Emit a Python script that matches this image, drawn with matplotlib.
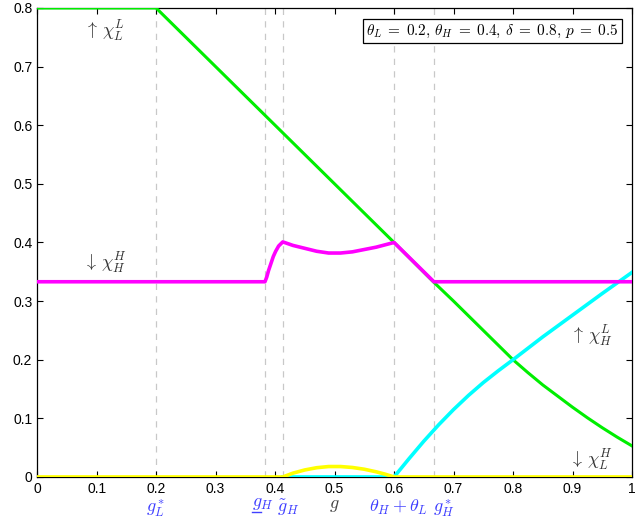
import numpy as np
import matplotlib.pyplot as plt
import matplotlib.transforms as mtransforms

plt.rcParams['mathtext.fontset'] = 'cm'
plt.rcParams['font.family'] = ['Liberation Sans', 'DejaVu Sans']

# -- data --
gL_x = [0.0, 0.2, 0.6, 0.667, 0.7, 0.75, 0.8, 0.825, 0.85, 0.875, 0.9, 0.925, 0.95, 0.975, 1.0]
chi_LL = [0.8, 0.8, 0.4, 0.332, 0.300, 0.250, 0.200, 0.178, 0.157, 0.138, 0.119, 0.101, 0.084, 0.068, 0.053]

gH_x = [0.0, 0.383, 0.386, 0.389, 0.393, 0.397, 0.401, 0.406, 0.413, 0.43, 0.45, 0.47, 0.49, 0.51,
        0.53, 0.55, 0.57, 0.585, 0.6, 0.667, 1.0]
chi_HH = [0.333, 0.333, 0.341, 0.352, 0.364, 0.376, 0.385, 0.394, 0.401, 0.395, 0.390, 0.385, 0.382, 0.382,
          0.384, 0.388, 0.392, 0.396, 0.400, 0.333, 0.333]

cy_x = [0.413, 0.6, 0.625, 0.65, 0.675, 0.7, 0.725, 0.75, 0.775, 0.8, 0.85, 0.9, 0.95, 1.0]
chi_HL = [0.0, 0.0, 0.031, 0.061, 0.089, 0.115, 0.139, 0.161, 0.181, 0.200, 0.239, 0.276, 0.313, 0.349]

ye_x = [0.0, 0.413, 0.43, 0.45, 0.47, 0.49, 0.51, 0.53, 0.55, 0.57, 0.585, 0.6, 1.0]
chi_LH = [0.0, 0.0, 0.0065, 0.0120, 0.0158, 0.0178, 0.0178, 0.0162, 0.0132, 0.0088, 0.0048, 0.0, 0.0]

vlines = [0.2, 0.383, 0.413, 0.6, 0.667]

fig = plt.figure(figsize=(6.4, 5.18), dpi=100)
ax = fig.add_axes([0.058, 0.0792, 0.9295, 0.9054])

for v in vlines:
    ax.axvline(v, color='#c8c8c8', lw=0.9, ls=(0, (5, 5)), zorder=1)

ax.plot(gL_x, chi_LL, color='#00ee00', lw=2.2, zorder=3)
ax.plot(gH_x, chi_HH, color='#ff00ff', lw=2.6, zorder=4)
ax.plot(cy_x, chi_HL, color='#00ffff', lw=2.6, zorder=3)
ax.plot(ye_x, chi_LH, color='#ffff00', lw=2.6, zorder=4)

ax.set_xlim(0, 1)
ax.set_ylim(0, 0.8)
ax.set_xticks(np.arange(0, 1.01, 0.1))
ax.set_xticklabels(['0', '0.1', '0.2', '0.3', '0.4', '0.5', '0.6', '0.7', '0.8', '0.9', '1'])
ax.set_yticks(np.arange(0, 0.81, 0.1))
ax.set_yticklabels(['0', '0.1', '0.2', '0.3', '0.4', '0.5', '0.6', '0.7', '0.8'])
ax.tick_params(direction='in', top=True, right=True, length=4, width=0.8, labelsize=10)
for s in ax.spines.values():
    s.set_linewidth(0.9)

# curve labels
txtc = '#333333'
ax.text(0.113, 0.76, r'$\uparrow\,\chi_L^L$', ha='center', va='center', fontsize=13, color=txtc)
ax.text(0.113, 0.365, r'$\downarrow\,\chi_H^H$', ha='center', va='center', fontsize=13, color=txtc)
ax.text(0.931, 0.239, r'$\uparrow\,\chi_H^L$', ha='center', va='center', fontsize=13, color=txtc)
ax.text(0.931, 0.029, r'$\downarrow\,\chi_L^H$', ha='center', va='center', fontsize=13, color=txtc)

ax.text(0.7655, 0.951,
        r'$\theta_L\;=\;0.2,\,\theta_H\;=\;0.4,\,\delta\;=\;0.8,\,p\;=\;0.5$',
        transform=ax.transAxes, ha='center', va='center', fontsize=11,
        bbox=dict(boxstyle='square,pad=0.25', fc='white', ec='black', lw=0.9))

# labels under the x axis
trans = mtransforms.blended_transform_factory(ax.transData, ax.transAxes)
blue = '#4040ff'
yl = -0.066
ax.text(0.2, yl, r'$g_L^*$', transform=trans, ha='center', va='center', fontsize=13, color=blue)
ax.text(0.361, yl + 0.009, r'$g_H$', transform=trans, ha='left', va='center', fontsize=13, color=blue)
ax.plot([0.362, 0.376], [-0.074, -0.074], transform=trans, color=blue, lw=1.0, clip_on=False)
ax.text(0.422, yl, r'$\tilde{g}_H$', transform=trans, ha='center', va='center', fontsize=13, color=blue)
ax.text(0.5, yl + 0.005, r'$g$', transform=trans, ha='center', va='center', fontsize=13, color='#444444')
ax.text(0.607, yl, r'$\theta_H + \theta_L$', transform=trans, ha='center', va='center', fontsize=13, color=blue)
ax.text(0.684, yl, r'$g_H^*$', transform=trans, ha='center', va='center', fontsize=13, color=blue)

fig.savefig('out.png', dpi=100)
